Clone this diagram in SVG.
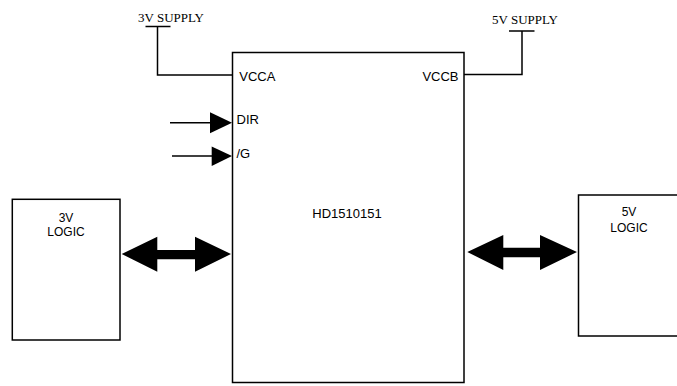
<svg xmlns="http://www.w3.org/2000/svg" width="677" height="386" viewBox="0 0 677 386">
<style>
.box{fill:#fff;stroke:#000;stroke-width:1.5}
.ln{fill:none;stroke:#000;stroke-width:1.5}
.s{font-family:"Liberation Sans",Arial,sans-serif;font-size:13px;fill:#000}
.lg{font-family:"Liberation Sans",Arial,sans-serif;font-size:12px;fill:#000;text-anchor:middle}
.sv{font-family:"Liberation Serif","Times New Roman",serif;font-size:13px;fill:#000}
.ah{fill:#000}
</style>
<rect width="677" height="386" fill="#fff"/>
<g id="connectors">
<path class="ln" d="M145.5,26.5H170.5M157.5,26.5V75H232.5"/>
<path class="ln" d="M509,31H534.5M522,31V74.5H464"/>
<path class="ln" d="M170,122.7H212"/>
<polygon class="ah" points="210,112.3 232,122.7 210,133.3"/>
<path class="ln" d="M172,156H213"/>
<polygon class="ah" points="211.7,146.5 232,156 211.7,166"/>
<polygon class="ah" points="121.7,254 157.3,236.7 157.3,250 195,250 195,236.7 231,254 195,271.7 195,259.3 157.3,259.3 157.3,271.7"/>
<polygon class="ah" points="467.3,252 503.3,235 503.3,247.7 540,247.7 540,235 577,252 540,270 540,257.3 503.3,257.3 503.3,270"/>
</g>
<g id="supply3v"><text class="sv" x="138" y="21.5">3V SUPPLY</text></g>
<g id="supply5v"><text class="sv" x="492" y="24">5V SUPPLY</text></g>
<g id="hd1510151">
<rect class="box" x="232.5" y="52.5" width="231.5" height="330"/>
<text class="s" x="239.3" y="80.7">VCCA</text>
<text class="s" x="458.5" y="80.7" text-anchor="end">VCCB</text>
<text class="s" x="236.5" y="124.3">DIR</text>
<text class="s" x="236.5" y="157.7">/G</text>
<text class="s" x="347" y="217.7" text-anchor="middle">HD1510151</text>
</g>
<g id="logic3v">
<rect class="box" x="12.3" y="199.3" width="107.7" height="140.7"/>
<text class="lg" x="66" y="222">3V</text>
<text class="lg" x="66" y="235.7">LOGIC</text>
</g>
<g id="logic5v">
<rect class="box" x="578.5" y="195" width="110" height="141"/>
<text class="lg" x="629" y="216">5V</text>
<text class="lg" x="629" y="231.7">LOGIC</text>
</g>
</svg>
